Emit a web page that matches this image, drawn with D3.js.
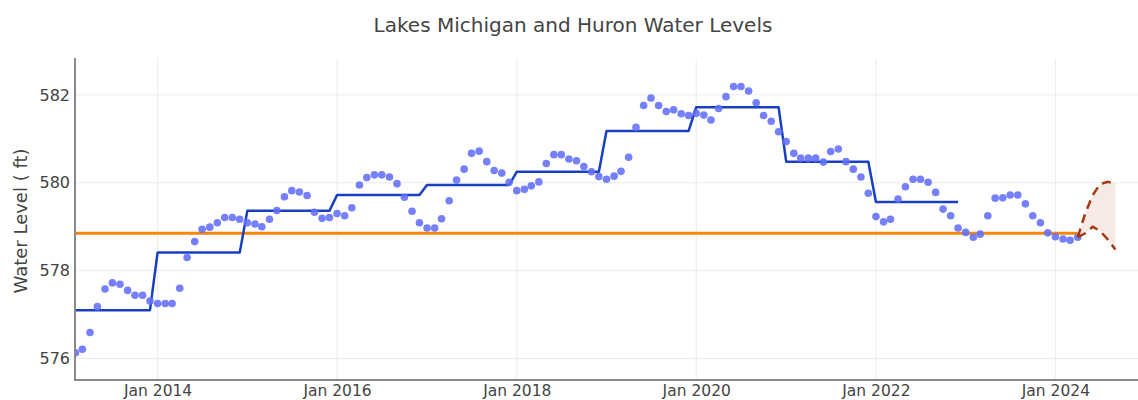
<!DOCTYPE html>
<html>
<head>
<meta charset="utf-8">
<script src="https://cdn.jsdelivr.net/npm/d3@7"></script>
<style>
  html, body { margin: 0; padding: 0; background: #fff; }
  svg { display: block; font-family: "DejaVu Sans", Verdana, sans-serif; }
</style>
</head>
<body>
<svg id="chart" width="1138" height="400"></svg>
<script>
// Monthly observed lake level (ft), Feb 2013 – Apr 2024
const observedFirstMonth = new Date(2013, 1, 1);
const observedLevels = [
  // 2013 (Feb–Dec)
  576.13, 576.21, 576.59, 577.18, 577.58, 577.72, 577.69, 577.55, 577.44, 577.44, 577.31,
  // 2014
  577.25, 577.25, 577.25, 577.60, 578.30, 578.66, 578.94, 578.99, 579.09, 579.21, 579.21, 579.17,
  // 2015
  579.09, 579.06, 579.00, 579.17, 579.37, 579.68, 579.82, 579.79, 579.71, 579.33, 579.19, 579.21,
  // 2016
  579.30, 579.25, 579.43, 579.95, 580.12, 580.18, 580.18, 580.13, 579.98, 579.67, 579.35, 579.09,
  // 2017
  578.97, 578.97, 579.18, 579.59, 580.06, 580.31, 580.67, 580.72, 580.48, 580.28, 580.22, 580.01,
  // 2018
  579.82, 579.85, 579.93, 580.02, 580.44, 580.64, 580.64, 580.54, 580.50, 580.37, 580.25, 580.14,
  // 2019
  580.08, 580.15, 580.26, 580.58, 581.26, 581.76, 581.93, 581.76, 581.62, 581.66, 581.57, 581.53,
  // 2020
  581.58, 581.54, 581.43, 581.69, 581.96, 582.19, 582.19, 582.09, 581.82, 581.53, 581.40, 581.16,
  // 2021
  580.94, 580.67, 580.56, 580.56, 580.56, 580.47, 580.71, 580.77, 580.48, 580.31, 580.13, 579.76,
  // 2022
  579.23, 579.11, 579.17, 579.63, 579.91, 580.08, 580.08, 580.01, 579.78, 579.40, 579.25, 578.97,
  // 2023
  578.87, 578.76, 578.83, 579.25, 579.65, 579.66, 579.72, 579.72, 579.52, 579.25, 579.09, 578.86,
  // 2024 (Jan–Apr)
  578.77, 578.72, 578.69, 578.76
];

// Annual mean level (ft)
const annualYears = [2013, 2014, 2015, 2016, 2017, 2018, 2019, 2020, 2021, 2022];
const annualMeans = [577.10, 578.41, 579.36, 579.72, 579.95, 580.25, 581.18, 581.72, 580.48, 579.56];

// Long-term average level (ft)
const longTermAverage = 578.85;

// Forecast band, Apr – Sep 2024
const forecastFirstMonth = new Date(2024, 3, 1);
const forecastUpper = [578.76, 579.30, 579.72, 579.97, 580.02, 579.98];
const forecastLower = [578.76, 578.85, 579.00, 578.90, 578.71, 578.48];

// Axis ticks
const yTicks = [576, 578, 580, 582];
const xTickYears = [2014, 2016, 2018, 2020, 2022, 2024];

const title = "Lakes Michigan and Huron Water Levels";
const yTitle = "Water Level ( ft)";

// ---- layout ----
const W = 1138, H = 400;
const plot = { left: 75, right: 1138, top: 58, bottom: 380 };

const svg = d3.select("#chart");

const x = d3.scaleTime()
  .domain([new Date(2013, 0, 30), new Date(2024, 11, 2)])
  .range([plot.left, plot.right]);

const y = d3.scaleLinear()
  .domain([575.51, 582.84])
  .range([plot.bottom, plot.top]);

// clip region for the data marks
svg.append("defs").append("clipPath").attr("id", "plotClip")
  .append("rect")
  .attr("x", plot.left).attr("y", plot.top)
  .attr("width", plot.right - plot.left).attr("height", plot.bottom - plot.top);

// ---- gridlines ----
const grid = svg.append("g").attr("class", "grid");
grid.selectAll("line.h").data(yTicks).join("line")
  .attr("class", "h")
  .attr("x1", plot.left).attr("x2", plot.right)
  .attr("y1", d => y(d)).attr("y2", d => y(d))
  .attr("stroke", "#ececec").attr("stroke-width", 1);
grid.selectAll("line.v").data(xTickYears).join("line")
  .attr("class", "v")
  .attr("x1", d => x(new Date(d, 0, 1))).attr("x2", d => x(new Date(d, 0, 1)))
  .attr("y1", plot.top).attr("y2", plot.bottom)
  .attr("stroke", "#ececec").attr("stroke-width", 1);

// ---- series data ----
const observed = observedLevels.map((v, i) => ({ date: d3.timeMonth.offset(observedFirstMonth, i), value: v }));

const annual = [];
annualYears.forEach((yr, i) => {
  for (let m = 0; m < 12; m++) annual.push({ date: new Date(yr, m, 1), value: annualMeans[i] });
});

const avgLine = [
  { date: new Date(annualYears[0], 0, 1), value: longTermAverage },
  { date: observed[observed.length - 1].date, value: longTermAverage }
];

const forecast = forecastUpper.map((u, i) => ({
  date: d3.timeMonth.offset(forecastFirstMonth, i), upper: u, lower: forecastLower[i]
}));

const marks = svg.append("g").attr("clip-path", "url(#plotClip)");

const line = d3.line().x(d => x(d.date)).y(d => y(d.value));

// long-term average
marks.append("path").datum(avgLine)
  .attr("d", line)
  .attr("fill", "none").attr("stroke", "#f7870f").attr("stroke-width", 3);

// annual mean steps
marks.append("path").datum(annual)
  .attr("d", line)
  .attr("fill", "none").attr("stroke", "#1840c0").attr("stroke-width", 2.5)
  .attr("stroke-linejoin", "round");

// monthly observations
marks.selectAll("circle.obs").data(observed).join("circle")
  .attr("class", "obs")
  .attr("cx", d => x(d.date)).attr("cy", d => y(d.value))
  .attr("r", 3.8)
  .attr("fill", "#636efa").attr("fill-opacity", 0.88);

// forecast band
const area = d3.area()
  .x(d => x(d.date))
  .y0(d => y(d.lower))
  .y1(d => y(d.upper));
marks.append("path").datum(forecast)
  .attr("d", area)
  .attr("fill", "#b23a12").attr("fill-opacity", 0.11);

const dashed = (key) => d3.line().x(d => x(d.date)).y(d => y(d[key]));
["upper", "lower"].forEach(key => {
  marks.append("path").datum(forecast)
    .attr("d", dashed(key))
    .attr("fill", "none").attr("stroke", "#a8370f").attr("stroke-width", 2.5)
    .attr("stroke-dasharray", "9,6");
});

// ---- axes ----
const axisColor = "#8a8a8a";
svg.append("line")
  .attr("x1", plot.left).attr("x2", plot.left)
  .attr("y1", plot.top).attr("y2", plot.bottom + 1)
  .attr("stroke", axisColor).attr("stroke-width", 2);
svg.append("line")
  .attr("x1", plot.left - 1).attr("x2", plot.right)
  .attr("y1", plot.bottom).attr("y2", plot.bottom)
  .attr("stroke", axisColor).attr("stroke-width", 2);

const yAxis = d3.axisLeft(y).tickValues(yTicks).tickSize(0).tickPadding(0).tickFormat(d3.format("d"));
const gy = svg.append("g").attr("transform", `translate(${plot.left - 5},0)`).call(yAxis);
gy.select(".domain").remove();
gy.selectAll("text").attr("font-size", 16).attr("fill", "#444")
  .attr("font-family", "DejaVu Sans, Verdana, sans-serif");

const xAxis = d3.axisBottom(x)
  .tickValues(xTickYears.map(yr => new Date(yr, 0, 1)))
  .tickSize(0).tickPadding(0)
  .tickFormat(d3.timeFormat("%b %Y"));
const gx = svg.append("g").attr("transform", `translate(0,${plot.bottom + 5})`).call(xAxis);
gx.select(".domain").remove();
gx.selectAll("text").attr("font-size", 15.5).attr("fill", "#444")
  .attr("font-family", "DejaVu Sans, Verdana, sans-serif");

// ---- titles ----
svg.append("text")
  .attr("x", 573).attr("y", 32)
  .attr("text-anchor", "middle")
  .attr("font-size", 20).attr("fill", "#444")
  .text(title);

svg.append("text")
  .attr("transform", `translate(27,${(plot.top + plot.bottom) / 2 + 2}) rotate(-90)`)
  .attr("text-anchor", "middle")
  .attr("font-size", 18).attr("fill", "#444")
  .text(yTitle);
</script>
</body>
</html>
